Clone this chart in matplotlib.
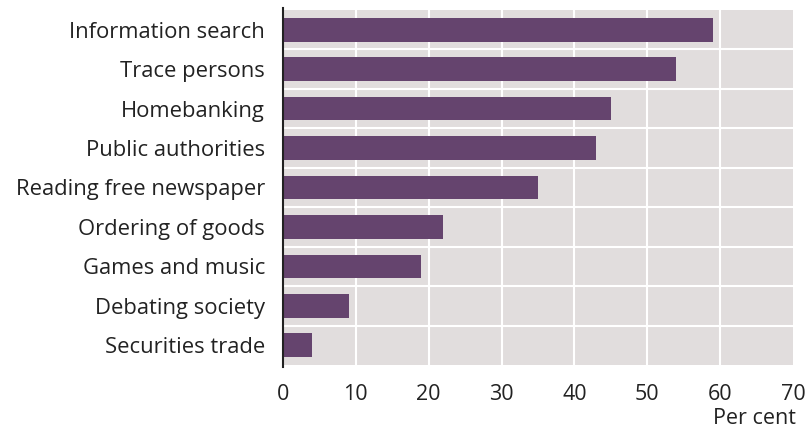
import matplotlib
matplotlib.use("Agg")
import matplotlib.pyplot as plt

categories = ["Information search", "Trace persons", "Homebanking", "Public authorities",
              "Reading free newspaper", "Ordering of goods", "Games and music",
              "Debating society", "Securities trade"]
values = [59, 54, 45, 43, 35, 22, 19, 9, 4]
xticks = [0, 10, 20, 30, 40, 50, 60, 70]

plt.rcParams['font.family'] = ['Open Sans', 'DejaVu Sans']

W, H = 806, 430
fig = plt.figure(figsize=(W/100, H/100), dpi=100)
ax = fig.add_axes([283/W, 1-365/H, 510/W, 355/H])
ax.set_facecolor('#e1dddd')

n = len(categories)
ypos = list(range(n))
ax.barh(ypos, values, height=0.6, color='#65446e', zorder=3)
ax.set_ylim(n - 0.5, -0.5)
ax.set_xlim(0, 70)
ax.set_xticks(xticks)
ax.set_yticks(ypos)
ax.set_yticklabels(categories)
for x in xticks[1:-1]:
    ax.axvline(x, color='white', lw=1.5, zorder=1)
for i in range(n - 1):
    ax.axhline(i + 0.5, color='white', lw=1.5, zorder=1)

for s in ['top', 'right', 'bottom']:
    ax.spines[s].set_visible(False)
ax.spines['left'].set_color('#222222')
ax.spines['left'].set_linewidth(1.5)
ax.spines['left'].set_zorder(4)
ax.spines['left'].set_bounds(n - 0.45, -0.55)
ax.tick_params(axis='both', length=0, colors='#222222')
ax.tick_params(axis='y', pad=13, labelsize=15.8)
ax.tick_params(axis='x', pad=13.5, labelsize=15.5)
fig.text(796/W, 1-424/H, "Per cent", ha='right', va='baseline',
         fontsize=15.5, color='#222222')

fig.savefig("out.png", dpi=100)
